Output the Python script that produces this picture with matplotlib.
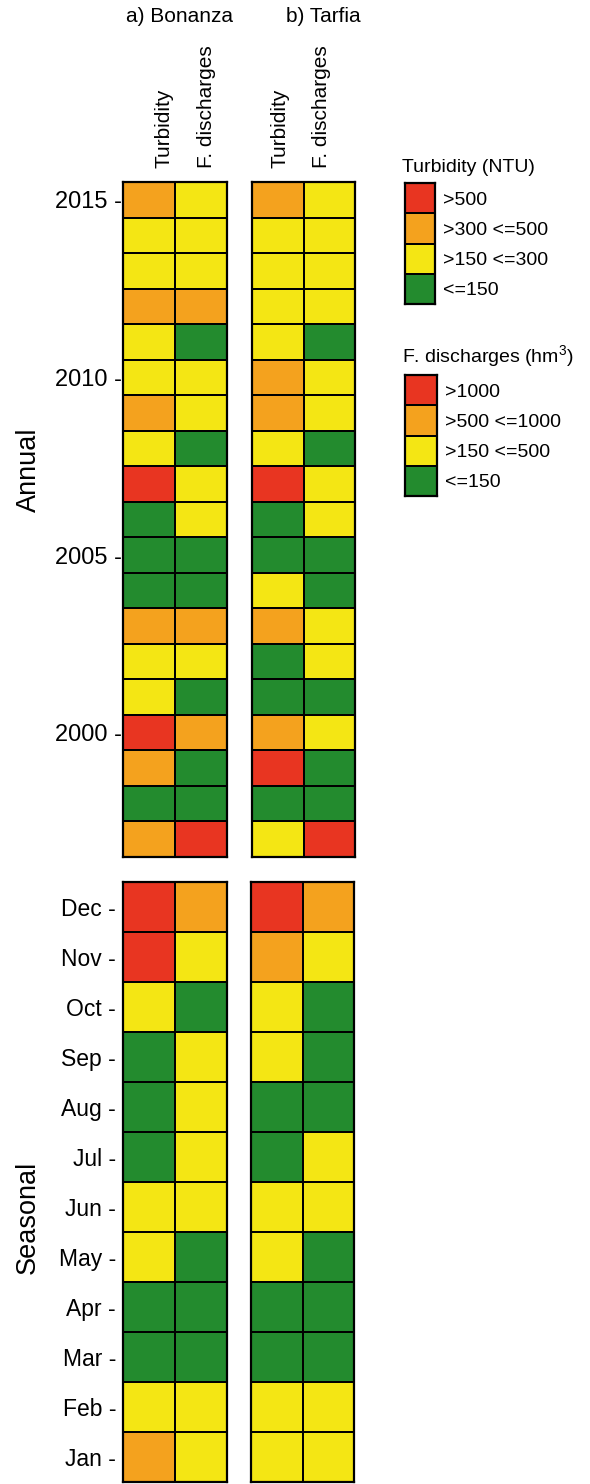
import numpy as np
import matplotlib.pyplot as plt
from matplotlib.colors import ListedColormap

plt.rcParams['font.family'] = ['Liberation Sans', 'DejaVu Sans']
plt.rcParams['mathtext.fontset'] = 'custom'
plt.rcParams['mathtext.rm'] = 'Liberation Sans'

# class codes: 0 = lowest, 3 = highest
years = list(range(2015, 1996, -1))
months = ['Dec', 'Nov', 'Oct', 'Sep', 'Aug', 'Jul', 'Jun', 'May', 'Apr', 'Mar', 'Feb', 'Jan']

bonanza_turb_annual = [2, 1, 1, 2, 1, 1, 2, 1, 3, 0, 0, 0, 2, 1, 1, 3, 2, 0, 2]
bonanza_dis_annual = [1, 1, 1, 2, 0, 1, 1, 0, 1, 1, 0, 0, 2, 1, 0, 2, 0, 0, 3]
tarfia_turb_annual = [2, 1, 1, 1, 1, 2, 2, 1, 3, 0, 0, 1, 2, 0, 0, 2, 3, 0, 1]
tarfia_dis_annual = [1, 1, 1, 1, 0, 1, 1, 0, 1, 1, 0, 0, 1, 1, 0, 1, 0, 0, 3]

bonanza_turb_season = [3, 3, 1, 0, 0, 0, 1, 1, 0, 0, 1, 2]
bonanza_dis_season = [2, 1, 0, 1, 1, 1, 1, 0, 0, 0, 1, 1]
tarfia_turb_season = [3, 2, 1, 1, 0, 0, 1, 1, 0, 0, 1, 1]
tarfia_dis_season = [2, 1, 0, 0, 0, 1, 1, 0, 0, 0, 1, 1]

year_ticks = [2015, 2010, 2005, 2000]
turb_classes = ['>500', '>300 <=500', '>150 <=300', '<=150']
dis_classes = ['>1000', '>500 <=1000', '>150 <=500', '<=150']

colors = ['#238b2e', '#f4e614', '#f4a21e', '#e83521']
cmap = ListedColormap(colors)

W, H = 590, 1484
fig = plt.figure(figsize=(W / 100, H / 100), dpi=100)


def px_axes(x0, y0, x1, y1):
    return fig.add_axes([x0 / W, 1 - y1 / H, (x1 - x0) / W, (y1 - y0) / H])


def tile(ax, turb, dis):
    grid = np.array([turb, dis]).T
    ax.pcolormesh(grid, cmap=cmap, vmin=-0.5, vmax=3.5,
                  edgecolors='black', linewidth=1.2)
    ax.set_ylim(len(turb), 0)
    ax.set_xlim(0, 2)
    ax.set_xticks([])
    ax.set_yticks([])
    for s in ax.spines.values():
        s.set_linewidth(1.6)


ax_ab = px_axes(123, 182, 227, 857)
ax_at = px_axes(252, 182, 355, 857)
ax_sb = px_axes(123, 882, 227, 1482)
ax_st = px_axes(251, 882, 354, 1482)

tile(ax_ab, bonanza_turb_annual, bonanza_dis_annual)
tile(ax_at, tarfia_turb_annual, tarfia_dis_annual)
tile(ax_sb, bonanza_turb_season, bonanza_dis_season)
tile(ax_st, tarfia_turb_season, tarfia_dis_season)

ax_ab.set_yticks([years.index(y) + 0.5 for y in year_ticks])
ax_ab.set_yticklabels([f'{y} -' for y in year_ticks], fontsize=17)
ax_ab.tick_params(axis='y', length=0, pad=1)

ax_sb.set_yticks(np.arange(len(months)) + 0.5)
ax_sb.set_yticklabels([f'{m} -' for m in months], fontsize=16.5)
ax_sb.tick_params(axis='y', length=0, pad=5)

# panel headings and column names
fig.text(180 / W, 1 - 17 / H, 'a) Bonanza', fontsize=15, ha='center', va='center')
fig.text(323 / W, 1 - 17 / H, 'b) Tarfia', fontsize=15, ha='center', va='center')
for x, lab in zip([164, 207, 280, 322],
                  ['Turbidity', 'F. discharges', 'Turbidity', 'F. discharges']):
    fig.text(x / W, 1 - 168 / H, lab, fontsize=15, rotation=90,
             ha='center', va='bottom')

fig.text(29 / W, 1 - 470 / H, 'Annual', fontsize=19.5, rotation=90,
         ha='center', va='center')
fig.text(28 / W, 1 - 1217 / H, 'Seasonal', fontsize=19.5, rotation=90,
         ha='center', va='center')

# legends drawn as small discrete keys
for (y0, y1), x1, title, ty, labels in [
        ((183, 304), 435, 'Turbidity (NTU)', 167, turb_classes),
        ((375, 496), 437, r'F. discharges (hm$^3$)', 357, dis_classes)]:
    lax = px_axes(405, y0, x1, y1)
    key = np.array([[3], [2], [1], [0]])
    lax.pcolormesh(key, cmap=cmap, vmin=-0.5, vmax=3.5,
                   edgecolors='black', linewidth=1.2)
    lax.set_ylim(4, 0)
    lax.set_xticks([])
    lax.yaxis.tick_right()
    lax.set_yticks(np.arange(4) + 0.5)
    lax.set_yticklabels(labels, fontsize=14)
    lax.tick_params(axis='y', length=0, pad=6)
    for s in lax.spines.values():
        s.set_linewidth(1.6)
    fig.text(402 / W, 1 - ty / H, title, fontsize=14, ha='left', va='center')

fig.savefig('out.png', dpi=100, facecolor='white')
